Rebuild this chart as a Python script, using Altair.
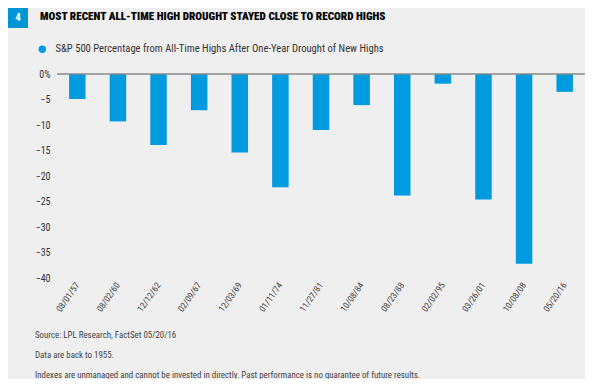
import altair as alt
import pandas as pd

dates = ["08/01/57", "08/02/60", "12/12/62", "02/09/67", "12/03/69", "01/11/74",
         "11/27/81", "10/08/84", "08/23/88", "02/02/95", "03/26/01", "10/08/08", "05/20/16"]
values = [-4.9, -9.3, -13.9, -7.1, -15.4, -22.2, -11.0, -6.1, -23.8, -1.9, -24.6, -37.2, -3.5]
series_name = "S&P 500 Percentage from All-Time Highs After One-Year Drought of New Highs"
title_text = "MOST RECENT ALL-TIME HIGH DROUGHT STAYED CLOSE TO RECORD HIGHS"
chart_number = "4"
y_ticks = [-40, -35, -30, -25, -20, -15, -10, -5, 0]
footnotes = ["Source: LPL Research, FactSet   05/20/16",
             "Data are back to 1955.",
             "Indexes are unmanaged and cannot be invested in directly. Past performance is no guarantee of future results."]

FONT = "Liberation Sans Narrow, Roboto Condensed, Arial Narrow, Liberation Sans, sans-serif"
BLUE = "#009ADE"
BG = "#EFEFEF"

df = pd.DataFrame({"date": dates, "value": values, "series": series_name})

W, H = 528, 204
yscale = alt.Scale(domain=[-40, 0], nice=False)
yaxis = alt.Axis(values=y_ticks, domain=False, ticks=False, grid=False,
                 labelOverlap=False, labelPadding=7, labelFontSize=10,
                 labelColor="#333", labelFont=FONT, title=None,
                 labelExpr="datum.value == 0 ? '0%' : datum.label")

bars = alt.Chart(df).mark_bar(size=16.5).encode(
    x=alt.X("date:N", sort=dates, title=None,
            scale=alt.Scale(paddingInner=0.59, paddingOuter=0.295),
            axis=alt.Axis(labelAngle=-55, domain=False, ticks=False, labelPadding=5,
                          labelFontSize=9, labelColor="#444", labelFont=FONT)),
    y=alt.Y("value:Q", title=None, scale=yscale, axis=yaxis),
    color=alt.Color("series:N", scale=alt.Scale(range=[BLUE]),
                    legend=alt.Legend(title=None, orient="none", legendX=-20, legendY=-30,
                                      symbolType="circle", symbolSize=55, labelFontSize=10.6,
                                      labelColor="#333", labelFont=FONT, labelLimit=600,
                                      labelOffset=8)),
)

zero = alt.Chart(pd.DataFrame({"value": [0]})).mark_rule(color="#8a8a8a", strokeWidth=1.5).encode(
    y=alt.Y("value:Q", title=None, scale=yscale, axis=yaxis)
)

title_df = pd.DataFrame({"t": [title_text]})
title = alt.Chart(title_df).mark_text(align="left", baseline="middle", font=FONT,
                                       fontWeight=900, fontSize=11.2, color="#000").encode(
    x=alt.value(-17), y=alt.value(-57), text="t:N")

box = alt.Chart(pd.DataFrame({"n": [chart_number]})).mark_rect(color="#0096D6").encode(
    x=alt.value(-49), x2=alt.value(-29), y=alt.value(-66), y2=alt.value(-46))
box_num = alt.Chart(pd.DataFrame({"n": [chart_number]})).mark_text(
    font=FONT, fontWeight="bold", fontSize=11, color="white", baseline="middle", align="center").encode(
    x=alt.value(-39), y=alt.value(-56), text="n:N")

notes_layers = []
for i, line in enumerate(footnotes):
    notes_layers.append(
        alt.Chart(pd.DataFrame({"t": [line]})).mark_text(
            align="left", baseline="middle", font=FONT, fontSize=8.9, color="#444").encode(
            x=alt.value(-22), y=alt.value(261 + 20 * i), text="t:N"))

chart = alt.layer(bars, zero, title, box, box_num, *notes_layers).properties(
    width=W, height=H,
    autosize=alt.AutoSizeParams(type="none"),
    padding={"left": 49, "top": 66, "right": 0, "bottom": 101},
    background=BG,
).configure_view(stroke=None)

chart.save("out.html", embed_options={"renderer": "svg", "actions": False})
